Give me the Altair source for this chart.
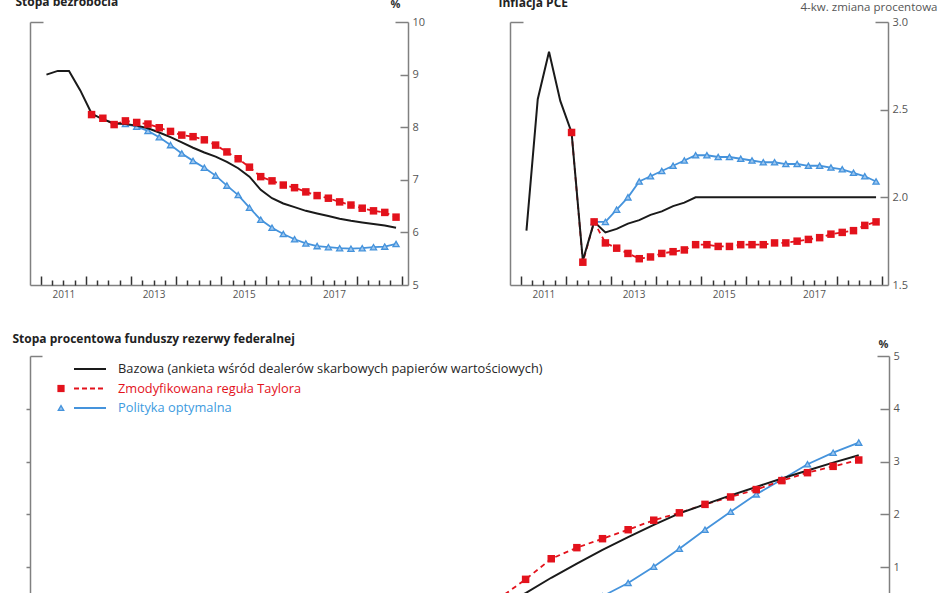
import altair as alt
import pandas as pd

# ---------------- categories ----------------
HIST_Q = ["2011Q1", "2011Q2", "2011Q3", "2011Q4"]
PROJ_Q = [f"{y}Q{q}" for y in range(2012, 2019) for q in (1, 2, 3, 4)]
ALL_Q = HIST_Q + PROJ_Q

LEGEND_LABELS = [
    "Bazowa (ankieta wśród dealerów skarbowych papierów wartościowych)",
    "Zmodyfikowana reguła Taylora",
    "\u00a0Polityka optymalna",
]

# ---------------- series values ----------------
# Stopa bezrobocia (2011Q1 - 2018Q4)
UNEMP_BASE = [9.00, 9.07, 9.07, 8.70,
              8.26, 8.15, 8.07, 8.06, 8.03, 7.98, 7.90, 7.81, 7.71, 7.61, 7.52, 7.44,
              7.34, 7.22, 7.06, 6.81, 6.65, 6.55, 6.48, 6.41, 6.36, 6.31, 6.26, 6.22,
              6.19, 6.16, 6.13, 6.09]
# from 2012Q1
UNEMP_TAYLOR = [8.24, 8.17, 8.05, 8.12, 8.09, 8.06, 7.99, 7.92, 7.85, 7.82, 7.76, 7.66,
                7.53, 7.40, 7.24, 7.06, 6.98, 6.90, 6.85, 6.77, 6.70, 6.65, 6.58, 6.52,
                6.46, 6.41, 6.38, 6.29]
# from 2012Q4
UNEMP_OPT = [8.06, 8.01, 7.93, 7.81, 7.66, 7.50, 7.36, 7.23, 7.08, 6.89, 6.71, 6.47,
             6.24, 6.09, 5.97, 5.87, 5.79, 5.74, 5.72, 5.70, 5.69, 5.70, 5.72, 5.73, 5.78]

# Inflacja PCE (2011Q1 - 2018Q4)
PCE_BASE = [1.81, 2.56, 2.83, 2.55,
            2.37, 1.64, 1.86, 1.80, 1.82, 1.85, 1.87, 1.90, 1.92, 1.95, 1.97, 2.00,
            2.00, 2.00, 2.00, 2.00, 2.00, 2.00, 2.00, 2.00, 2.00, 2.00, 2.00, 2.00,
            2.00, 2.00, 2.00, 2.00]
# from 2012Q1
PCE_TAYLOR = [2.37, 1.63, 1.86, 1.74, 1.71, 1.68, 1.65, 1.66, 1.68, 1.69, 1.70, 1.73,
              1.73, 1.72, 1.72, 1.73, 1.73, 1.73, 1.74, 1.74, 1.75, 1.76, 1.77, 1.79,
              1.80, 1.81, 1.84, 1.86]
# from 2012Q3
PCE_OPT = [1.86, 1.86, 1.93, 2.00, 2.09, 2.12, 2.15, 2.18, 2.21, 2.24,
           2.24, 2.23, 2.23, 2.22, 2.21, 2.20, 2.20, 2.19, 2.19, 2.18,
           2.18, 2.17, 2.16, 2.14, 2.12, 2.09]

# Stopa funduszy federalnych (2011Q1 - 2018Q4)
FF_BASE = [0.16, 0.09, 0.08, 0.07,
           0.10, 0.15, 0.14, 0.13, 0.13, 0.13, 0.13, 0.13, 0.13, 0.13, 0.13, 0.13,
           0.15, 0.28, 0.51, 0.80, 1.07, 1.33, 1.57, 1.80, 2.02, 2.19, 2.36, 2.52,
           2.68, 2.83, 2.98, 3.12]
# from 2012Q1
FF_TAYLOR = [0.10, 0.15, 0.14, 0.13, 0.13, 0.13, 0.13, 0.13, 0.13, 0.13, 0.13, 0.13,
             0.20, 0.42, 0.77, 1.16, 1.37, 1.54, 1.71, 1.89, 2.03, 2.19, 2.33, 2.47,
             2.64, 2.79, 2.91, 3.03]
# from 2012Q3
FF_OPT = [0.14, 0.13, 0.13, 0.13, 0.13, 0.13, 0.13, 0.13, 0.13, 0.13, 0.13, 0.13,
          0.13, 0.15, 0.25, 0.45, 0.70, 1.01, 1.35, 1.71, 2.05, 2.38, 2.66, 2.95,
          3.17, 3.36]

# ---------------- styling ----------------
BLACK = "#1a1a1a"
RED = "#e3121c"
BLUE = "#4593dc"
BLUE_FILL = "#9cc6ef"
AX = "#808080"
TXT = "#555555"
FONT = "Open Sans"
XDOM_TOP = [2010.76, 2019.14]
XDOM_BOTTOM = [2010.79, 2019.17]
YEARS = list(range(2011, 2020))
QTICKS = [y + k / 4 for y in range(2011, 2019) for k in (1, 2, 3)]
TOP_H = 263
GAP = 71


def qpos(q):
    # middle of the quarter
    return int(q[:4]) + (int(q[-1]) - 1) / 4 + 0.125


def frame(base, taylor, opt, opt_start):
    rows = []
    for q, v in zip(ALL_Q, base):
        rows.append({"t": qpos(q), "v": v, "s": "base"})
    for q, v in zip(PROJ_Q, taylor):
        rows.append({"t": qpos(q), "v": v, "s": "taylor"})
    i0 = PROJ_Q.index(opt_start)
    for q, v in zip(PROJ_Q[i0:], opt):
        rows.append({"t": qpos(q), "v": v, "s": "opt"})
    return pd.DataFrame(rows)


def panel(df, W, H, xdom, ydom, lab_vals, fmt, in_vals, in_size, br_size,
          left_title, lt_x, lt_y, right_title, rt_x, rt_y, rt_align, rt_bold, rt_size,
          out_vals=None, legend=False):
    xs = alt.Scale(domain=xdom, nice=False, zero=False)
    ys = alt.Scale(domain=ydom, nice=False, zero=False)

    x_lab = alt.Axis(orient="bottom", values=[2011.5, 2013.5, 2015.5, 2017.5],
                     labelExpr="floor(datum.value)", ticks=False, domain=True,
                     domainColor=AX, domainWidth=1.5, labelFont=FONT, labelFontSize=10,
                     labelColor=TXT, labelPadding=4, labelOverlap=False, grid=False, title=None)
    x_yr = alt.Axis(orient="top", offset=-H, values=YEARS, tickSize=9, tickColor="#333333",
                    tickWidth=1.5, labels=False, domain=False, grid=False, title=None)
    x_qt = alt.Axis(orient="top", offset=-H, values=QTICKS, tickSize=5, tickColor="#333333",
                    tickWidth=1.5, labels=False, domain=False, grid=False, title=None)

    y_lab = alt.Axis(orient="right", values=lab_vals, format=fmt, ticks=False, domain=True,
                     domainColor=AX, domainWidth=1.5, labelFont=FONT, labelFontSize=11,
                     labelColor=TXT, labelPadding=4, grid=False,
                     title=right_title, titleAngle=0, titleX=rt_x, titleY=rt_y,
                     titleAlign=rt_align, titleBaseline="alphabetic", titleFont=FONT,
                     titleFontSize=rt_size, titleFontWeight="bold" if rt_bold else "normal",
                     titleColor="#333333" if rt_bold else TXT)
    y_in = alt.Axis(orient="left", offset=-W, values=in_vals, tickSize=in_size, tickColor=AX,
                    tickWidth=1.5, labels=False, domain=False, grid=False, title=None)
    y_rbr = alt.Axis(orient="left", offset=-W, values=[ydom[1]], tickSize=br_size, tickColor=AX,
                     tickWidth=1.5, labels=False, domain=False, grid=False, title=None)
    left_kw = dict(orient="left", domain=True, domainColor=AX, domainWidth=1.5, labels=False,
                   grid=False, title=left_title, titleAngle=0, titleX=lt_x, titleY=lt_y,
                   titleAlign="left", titleBaseline="alphabetic", titleFont=FONT,
                   titleFontSize=12, titleFontWeight="bold", titleColor="#222222")
    if out_vals:
        y_left = alt.Axis(values=out_vals, ticks=True, tickSize=4, tickColor=AX, tickWidth=1.5,
                          **left_kw)
    else:
        y_left = alt.Axis(ticks=False, **left_kw)
    y_lbr = alt.Axis(orient="right", offset=-W, values=[ydom[1]], tickSize=br_size, tickColor=AX,
                     tickWidth=1.5, labels=False, domain=False, grid=False, title=None)

    base = alt.Chart(df)
    b_line = base.transform_filter("datum.s == 'opt'").mark_line(
        color=BLUE, strokeWidth=1.8).encode(
        x=alt.X("t:Q", scale=xs, axis=None), y=alt.Y("v:Q", scale=ys, axis=y_rbr))
    b_pts = base.transform_filter("datum.s == 'opt'").mark_point(
        shape="triangle-up", filled=True, fill=BLUE_FILL, stroke=BLUE, strokeWidth=1.3,
        size=38, opacity=1).encode(
        x=alt.X("t:Q", scale=xs, axis=None), y=alt.Y("v:Q", scale=ys, axis=y_lbr))
    r_line = base.transform_filter("datum.s == 'taylor'").mark_line(
        color=RED, strokeWidth=1.8, strokeDash=[5, 4]).encode(
        x=alt.X("t:Q", scale=xs, axis=x_yr), y=alt.Y("v:Q", scale=ys, axis=y_in))
    k_line = base.transform_filter("datum.s == 'base'").mark_line(
        color=BLACK, strokeWidth=2).encode(
        x=alt.X("t:Q", scale=xs, axis=x_lab), y=alt.Y("v:Q", scale=ys, axis=y_lab))
    r_pts = base.transform_filter("datum.s == 'taylor'").mark_point(
        shape="square", filled=True, color=RED, size=56, opacity=1).encode(
        x=alt.X("t:Q", scale=xs, axis=x_qt), y=alt.Y("v:Q", scale=ys, axis=y_left))

    layers = [b_line, b_pts, r_line, k_line, r_pts]

    if legend:
        leg = pd.DataFrame({"label": LEGEND_LABELS, "row": [0, 1, 2]})
        rs = alt.Scale(domain=[0, 2], range=[13, 52])
        cscale = alt.Scale(domain=LEGEND_LABELS, range=["#262626", RED, "#3d9be0"])
        lchart = alt.Chart(leg)
        l_rule = lchart.mark_rule(strokeWidth=2.2).encode(
            x=alt.value(44), x2=alt.value(76),
            y=alt.Y("row:Q", scale=rs, axis=None),
            color=alt.Color("label:N", scale=alt.Scale(domain=LEGEND_LABELS,
                                                      range=[BLACK, RED, BLUE]), legend=None),
            strokeDash=alt.StrokeDash("label:N", scale=alt.Scale(
                domain=LEGEND_LABELS, range=[[1, 0], [5, 3], [1, 0]]), legend=None))
        l_sq = lchart.transform_filter("datum.row == 1").mark_point(
            shape="square", filled=True, color=RED, size=52, opacity=1).encode(
            x=alt.value(31), y=alt.Y("row:Q", scale=rs, axis=None))
        l_tr = lchart.transform_filter("datum.row == 2").mark_point(
            shape="triangle-up", filled=True, fill=BLUE_FILL, stroke=BLUE, strokeWidth=1.3,
            size=30, opacity=1).encode(
            x=alt.value(31), y=alt.Y("row:Q", scale=rs, axis=None))
        l_txt = lchart.mark_text(align="left", baseline="middle", font=FONT, fontSize=12.8).encode(
            x=alt.value(88), y=alt.Y("row:Q", scale=rs, axis=None), text="label:N",
            color=alt.Color("label:N", scale=cscale, legend=None))
        layers += [l_rule, l_sq, l_tr, l_txt]
        ch = alt.layer(*layers).resolve_scale(y="independent", color="independent")
    else:
        ch = alt.layer(*layers)

    return ch.resolve_axis(x="independent", y="independent").properties(width=W, height=H)


df_u = frame(UNEMP_BASE, UNEMP_TAYLOR, UNEMP_OPT, "2012Q4")
df_p = frame(PCE_BASE, PCE_TAYLOR, PCE_OPT, "2012Q3")
df_f = frame(FF_BASE, FF_TAYLOR, FF_OPT, "2012Q3")

tl = panel(df_u, 378, TOP_H, XDOM_TOP, [5, 10], [5, 6, 7, 8, 9, 10], "d", [6, 7, 8, 9], 8, 13,
           "Stopa bezrobocia", -15, -17, "%", -13, -15, "center", True, 11)
tr = panel(df_p, 378, TOP_H, XDOM_TOP, [1.5, 3.0], [1.5, 2.0, 2.5, 3.0], ".1f", [2.0, 2.5], 8, 13,
           "Inflacja PCE", -12, -16, "4-kw. zmiana procentowa", 49, -12, "right", False, 11.5)
bt = panel(df_f, 859, 264, XDOM_BOTTOM, [0, 5], [0, 1, 2, 3, 4, 5], "d", [1, 2, 3, 4], 9, 12,
           "Stopa procentowa funduszy rezerwy federalnej", -18, -14, "%", -6, -9, "center", True, 11,
           out_vals=[1, 2, 3, 4], legend=True)

# with flush bounds the nested row counts as zero height, so the gap includes its height
top = alt.hconcat(tl, tr, spacing=102, bounds="flush")
chart = alt.vconcat(top, bt, spacing=TOP_H + GAP, bounds="flush").properties(
    padding={"left": 12, "top": -5, "right": 5, "bottom": 5},
    background="white",
).configure_view(stroke=None)

chart.save("out.html", embed_options={"renderer": "svg", "actions": False})
